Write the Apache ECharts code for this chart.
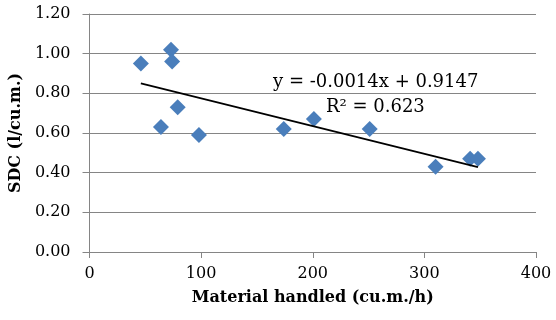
<!DOCTYPE html>
<html>
<head>
<meta charset="utf-8">
<script src="https://cdn.jsdelivr.net/npm/echarts@6/dist/echarts.min.js"></script>
<style>
  html, body { margin: 0; padding: 0; background: #fff; }
  #chart { width: 556px; height: 320px; }
</style>
</head>
<body>
<div id="chart"></div>
<script>
// material handled (cu.m./h) vs SDC (l/cu.m.)
var materialHandled = [46, 73, 74, 79, 64, 98, 174, 201, 251, 310, 341, 348];
var sdcValues = [0.95, 1.02, 0.96, 0.73, 0.63, 0.59, 0.62, 0.67, 0.62, 0.43, 0.47, 0.47];

// linear trendline as printed on the chart
var trendSlope = -0.0014;
var trendIntercept = 0.9147;
var trendR2 = 0.623;

var yTicks = [0, 0.2, 0.4, 0.6, 0.8, 1.0, 1.2];
var xTicks = [0, 100, 200, 300, 400];

var points = materialHandled.map(function (x, i) { return [x, sdcValues[i]]; });
var xMin = Math.min.apply(null, materialHandled);
var xMax = Math.max.apply(null, materialHandled);
var trendData = [
  [xMin, trendSlope * xMin + trendIntercept],
  [xMax, trendSlope * xMax + trendIntercept]
];

var serif = 'DejaVu Serif';
var gridColor = '#858585';

var chart = echarts.init(document.getElementById('chart'));
chart.setOption({
  animation: false,
  grid: { left: 89, right: 20, top: 14, bottom: 68 },
  xAxis: {
    type: 'value',
    min: xTicks[0],
    max: xTicks[xTicks.length - 1],
    interval: 100,
    name: 'Material handled (cu.m./h)',
    nameLocation: 'middle',
    nameGap: 38,
    nameTextStyle: { fontFamily: serif, fontWeight: 'bold', fontSize: 16, color: '#000' },
    axisLine: { lineStyle: { color: gridColor, width: 1 } },
    axisTick: { show: true, length: 6, lineStyle: { color: gridColor } },
    axisLabel: { fontFamily: serif, fontSize: 16, color: '#000', margin: 14 },
    splitLine: { show: false }
  },
  yAxis: {
    type: 'value',
    min: yTicks[0],
    max: yTicks[yTicks.length - 1],
    interval: 0.2,
    name: 'SDC (l/cu.m.)',
    nameLocation: 'middle',
    nameGap: 53,
    nameTextStyle: { fontFamily: serif, fontWeight: 'bold', fontSize: 16, color: '#000' },
    axisLine: { show: true, lineStyle: { color: gridColor, width: 1 } },
    axisTick: { show: true, length: 7, lineStyle: { color: gridColor } },
    axisLabel: {
      fontFamily: serif, fontSize: 16, color: '#000', margin: 19,
      formatter: function (v) { return v.toFixed(2); }
    },
    splitLine: { show: true, lineStyle: { color: gridColor, width: 1 } }
  },
  series: [
    {
      type: 'scatter',
      data: points,
      symbol: 'diamond',
      symbolSize: [16, 16],
      itemStyle: { color: '#4a7ebb', opacity: 1 },
      z: 3
    },
    {
      type: 'line',
      data: trendData,
      showSymbol: false,
      silent: true,
      lineStyle: { color: '#000', width: 1.75 },
      z: 4
    }
  ],
  graphic: [
    {
      type: 'text',
      left: 273,
      top: 73,
      style: {
        text: 'y = ' + trendSlope.toFixed(4) + 'x + ' + trendIntercept.toFixed(4),
        font: '18px "DejaVu Serif"',
        fill: '#000'
      }
    },
    {
      type: 'text',
      left: 326,
      top: 98,
      style: {
        text: 'R² = ' + trendR2.toFixed(3),
        font: '18px "DejaVu Serif"',
        fill: '#000'
      }
    }
  ]
});
</script>
</body>
</html>
